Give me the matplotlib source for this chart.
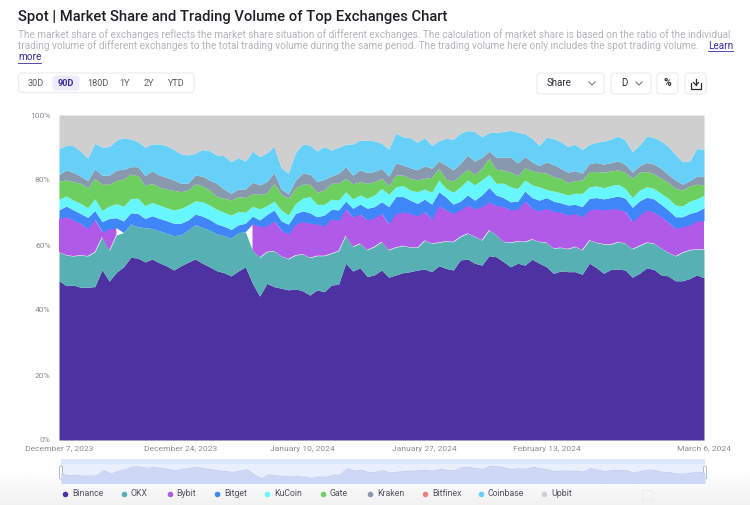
import numpy as np
import pandas as pd
import matplotlib.pyplot as plt
from matplotlib.patches import FancyBboxPatch, Rectangle

plt.rcParams["font.family"] = ["Roboto", "DejaVu Sans"]

# ---- Data: top edge of each stacked band, in % of total volume, one per day
dates = pd.date_range("2023-12-07", periods=91)

binance_top = [
    49.0, 47.5, 47.7, 47.0, 47.0, 47.2, 52.4, 48.9, 51.6, 53.3, 56.2, 56.0, 54.8, 55.7, 54.5, 53.6,
    52.3, 53.6, 54.7, 55.7, 54.4, 53.3, 52.1, 51.5, 50.5, 52.0, 53.3, 48.2, 44.3, 48.2, 47.2,
    46.7, 46.2, 46.5, 45.9, 44.6, 46.2, 45.6, 47.7, 47.9, 54.4, 52.0, 53.0, 50.3, 50.8, 52.3,
    50.1, 50.8, 51.5, 51.8, 52.3, 52.6, 51.8, 53.6, 52.8, 52.3, 55.4, 55.7, 54.4, 53.8, 56.7,
    56.4, 54.9, 53.3, 54.4, 53.8, 55.6, 54.4, 53.3, 51.3, 52.0, 51.8, 51.8, 51.0, 54.4, 53.0,
    51.3, 52.5, 52.6, 52.3, 50.1, 51.3, 53.0, 52.5, 50.8, 50.5, 49.0, 49.0, 49.7, 50.8, 49.9,
]
okx_top = [
    57.8, 56.9, 56.6, 56.9, 56.6, 57.9, 62.5, 58.3, 63.1, 63.8, 66.5, 65.6, 65.3, 65.1, 64.4, 63.6,
    62.9, 63.1, 64.6, 66.2, 65.4, 64.6, 63.4, 62.9, 62.1, 63.8, 64.1, 58.3, 56.2, 57.9, 58.2,
    56.6, 55.7, 56.9, 57.2, 56.1, 56.7, 56.7, 57.4, 58.2, 62.9, 59.5, 60.5, 58.5, 59.5, 61.0,
    58.5, 59.3, 59.8, 59.3, 59.2, 61.4, 60.5, 60.8, 61.2, 61.0, 62.6, 63.6, 62.6, 61.5, 64.6,
    63.1, 61.0, 60.8, 61.2, 61.0, 61.8, 61.0, 60.8, 59.0, 59.2, 58.8, 59.5, 58.5, 61.5, 60.7,
    60.3, 60.2, 61.0, 60.5, 58.8, 59.8, 60.8, 60.5, 59.0, 57.7, 56.6, 57.7, 58.5, 58.7, 58.7,
]
nan = float("nan")
bybit_top = [
    68.0, 68.8, 67.6, 66.7, 65.0, 67.9, 64.1, 64.9, 65.3, nan, nan, nan, nan, nan, nan, nan,
    nan, nan, nan, nan, nan, nan, nan, nan, nan, nan, nan, 66.5, 65.8, 65.9, 67.4,
    64.6, 63.3, 66.4, 67.2, 66.7, 66.4, 65.8, 68.0, 67.5, 71.0, 68.7, 69.5, 67.7, 68.4, 69.7,
    66.5, 69.7, 70.1, 69.7, 69.0, 70.3, 67.9, 72.1, 70.8, 69.7, 70.8, 72.3, 71.1, 71.8, 73.3,
    72.1, 71.8, 70.8, 71.0, 73.5, 71.3, 70.5, 71.3, 70.3, 70.1, 69.2, 69.7, 68.7, 70.8, 71.1,
    70.8, 71.1, 71.1, 70.3, 67.2, 69.2, 70.8, 70.1, 68.7, 67.0, 65.1, 65.6, 66.2, 67.4, 67.5,
]
bitget_top = [
    70.8, 72.0, 70.8, 69.7, 68.5, 70.6, 67.2, 68.2, 68.4, 67.4, 69.9, 69.7, 68.2, 69.0, 68.2, 67.5,
    66.7, 66.7, 67.7, 69.5, 68.9, 67.9, 66.5, 65.8, 64.8, 66.2, 66.7, 68.9, 67.7, 69.4, 70.8,
    67.4, 66.4, 69.7, 70.5, 69.9, 68.7, 69.2, 71.0, 70.8, 73.5, 71.3, 72.6, 71.3, 71.8, 73.3,
    71.8, 74.9, 74.9, 73.8, 72.8, 74.1, 72.6, 76.4, 74.7, 72.6, 73.5, 75.4, 73.8, 75.4, 77.7,
    75.4, 74.6, 73.3, 73.5, 76.6, 74.6, 73.8, 74.6, 73.5, 73.0, 72.3, 72.5, 71.8, 74.4, 74.6,
    74.2, 74.6, 75.1, 74.4, 71.6, 73.6, 74.7, 74.2, 72.5, 70.8, 68.7, 68.7, 69.7, 70.3, 71.5,
]
kucoin_top = [
    74.1, 75.1, 73.8, 72.8, 71.5, 74.2, 70.6, 72.0, 72.7, 71.9, 74.3, 74.4, 72.1, 73.1, 72.3, 71.5,
    70.8, 71.3, 72.3, 73.6, 73.3, 72.3, 71.0, 70.1, 69.2, 70.3, 70.1, 71.9, 71.1, 72.1, 73.5,
    70.8, 69.2, 72.8, 74.4, 74.9, 72.5, 72.5, 74.1, 73.8, 76.4, 74.2, 75.4, 74.4, 75.4, 77.4,
    75.6, 77.9, 78.3, 76.9, 76.4, 77.2, 76.2, 80.0, 77.4, 76.2, 77.9, 80.0, 78.5, 80.0, 81.7,
    79.0, 79.0, 77.9, 77.4, 80.0, 78.5, 77.9, 77.1, 76.6, 76.1, 75.4, 75.9, 75.9, 77.9, 78.2,
    77.6, 78.3, 78.7, 77.4, 74.6, 76.9, 77.9, 77.4, 75.9, 74.4, 72.3, 72.0, 73.5, 74.2, 75.3,
]
gate_top = [
    79.7, 80.0, 79.5, 79.0, 77.6, 80.5, 78.7, 78.7, 79.8, 80.3, 81.8, 81.3, 78.3, 79.0, 77.8, 77.2,
    76.8, 76.4, 76.9, 78.8, 78.2, 76.9, 74.9, 74.4, 73.8, 74.9, 74.6, 75.8, 75.6, 76.0, 79.0,
    75.6, 74.4, 77.6, 78.7, 78.7, 76.2, 76.9, 79.0, 79.0, 80.5, 78.8, 79.5, 79.0, 79.5, 80.5,
    78.2, 81.5, 81.5, 80.5, 80.0, 80.5, 80.8, 83.6, 80.2, 79.7, 81.5, 83.3, 81.7, 83.6, 86.7,
    83.3, 83.0, 82.4, 81.3, 83.8, 82.8, 82.4, 82.1, 81.0, 80.5, 79.2, 79.8, 80.0, 82.6, 82.6,
    82.4, 82.8, 83.1, 82.3, 80.5, 82.4, 82.6, 81.9, 80.5, 79.2, 77.4, 76.9, 78.2, 78.7, 78.5,
]
kraken_top = [
    81.7, 83.1, 82.4, 81.2, 79.8, 83.4, 81.5, 81.5, 83.1, 83.3, 84.1, 84.1, 81.4, 82.8, 81.5, 80.8,
    80.0, 79.0, 79.0, 81.5, 81.2, 80.0, 79.0, 77.2, 75.9, 77.2, 77.2, 79.3, 78.5, 79.5, 82.3,
    77.2, 75.7, 80.0, 82.1, 81.8, 79.5, 80.2, 81.2, 82.1, 84.1, 81.5, 83.1, 82.3, 82.6, 83.6,
    81.2, 85.3, 84.6, 83.8, 83.1, 84.4, 83.6, 85.9, 84.6, 83.1, 85.1, 87.7, 85.8, 86.9, 88.9,
    87.0, 87.0, 87.0, 85.3, 87.2, 85.6, 84.4, 85.6, 84.8, 83.6, 82.4, 82.9, 82.1, 85.1, 85.4,
    84.9, 85.3, 85.9, 84.8, 82.4, 84.4, 85.4, 84.9, 83.6, 81.7, 80.0, 78.7, 79.8, 81.2, 81.0,
]
coinbase_top = [
    89.7, 90.6, 90.6, 88.9, 86.7, 91.3, 90.1, 90.3, 92.3, 93.0, 92.6, 91.8, 90.1, 91.1, 91.1, 90.6,
    89.4, 88.1, 87.7, 88.2, 89.4, 89.0, 87.7, 87.5, 85.6, 86.9, 85.8, 88.9, 87.2, 88.4, 90.3,
    83.8, 82.1, 88.5, 91.0, 90.8, 88.9, 90.3, 89.2, 90.1, 91.0, 91.1, 92.3, 92.2, 92.1, 91.3,
    89.5, 94.4, 93.3, 93.0, 91.6, 93.1, 90.6, 92.1, 92.8, 92.6, 94.4, 95.2, 94.9, 93.3, 94.6,
    94.7, 94.9, 95.3, 94.7, 94.3, 92.8, 90.6, 93.2, 92.8, 91.8, 90.3, 91.0, 89.4, 91.0, 91.6,
    92.0, 92.6, 93.5, 92.3, 88.7, 90.8, 93.5, 93.1, 92.0, 90.3, 87.9, 85.6, 85.9, 89.7, 89.5,
]

exchanges = ["Binance", "OKX", "Bybit", "Bitget", "KuCoin", "Gate", "Kraken", "Bitfinex", "Coinbase", "Upbit"]
colors = ["#4d33a1", "#56b0b4", "#b05ae8", "#3f86f8", "#66f6fe", "#6ccf5f", "#8899ae", "#ee7f7f", "#67d0f9", "#cfcfcf"]

y_ticks = [0, 20, 40, 60, 80, 100]
x_tick_dates = ["2023-12-07", "2023-12-24", "2024-01-10", "2024-01-27", "2024-02-13", "2024-03-06"]
x_tick_labels = ["December 7, 2023", "December 24, 2023", "January 10, 2024", "January 27, 2024", "February 13, 2024", "March 6, 2024"]

GREY_TEXT = "#8b8b94"
DARK_TEXT = "#2b2b33"
PURPLE = "#3d2a9c"

fig = plt.figure(figsize=(7.5, 5.05), dpi=100)

# ---- Page layer, in pixel coordinates of the screenshot
page = fig.add_axes([0, 0, 1, 1], zorder=0)
page.set_xlim(0, 750)
page.set_ylim(505, 0)
page.axis("off")

# bottom fade
fade = np.linspace(1, 0.945, 50)[:, None]
page.imshow(fade, extent=(0, 750, 505, 470), cmap="gray", vmin=0, vmax=1, aspect="auto", zorder=0)
page.set_xlim(0, 750)
page.set_ylim(505, 0)

page.text(18, 17, "Spot | Market Share and Trading Volume of Top Exchanges Chart",
          fontsize=10.6, fontweight="medium", color="#1f1f27", va="center")
sub_lines = [
    "The market share of exchanges reflects the market share situation of different exchanges. The calculation of market share is based on the ratio of the individual",
    "trading volume of different exchanges to the total trading volume during the same period. The trading volume here only includes the spot trading volume.",
]
page.text(18, 34.5, sub_lines[0], fontsize=7.2, color="#b4b4bb", va="center")
page.text(18, 46, sub_lines[1], fontsize=7.2, color="#b4b4bb", va="center")
page.text(708, 46, "Learn", fontsize=7.2, color=PURPLE, va="center")
page.text(18, 57.5, "more", fontsize=7.2, color=PURPLE, va="center")
page.plot([708, 733], [51, 51], color=PURPLE, lw=0.6)
page.plot([18, 41], [62.5, 62.5], color=PURPLE, lw=0.6)


def box(x0, y0, x1, y1, fc="white", ec="#ececf0"):
    page.add_patch(FancyBboxPatch((x0, y0), x1 - x0, y1 - y0, boxstyle="round,pad=0,rounding_size=3",
                                  fc=fc, ec=ec, lw=0.8, mutation_aspect=1))


def chevron(x, y):
    page.plot([x - 3, x, x + 3], [y - 1.5, y + 1.5, y - 1.5], color="#77777f", lw=0.8)


# ---- Range buttons
box(18.5, 73, 194, 92.5)
box(53, 76, 79, 90, fc="#eeecfa", ec="#eeecfa")
range_names = ["30D", "90D", "180D", "1Y", "2Y", "YTD"]
range_x = [35.5, 66, 97.5, 125, 149, 176]
for name, x in zip(range_names, range_x):
    page.text(x, 83, name, fontsize=6.6, ha="center", va="center",
              color=PURPLE if name == "90D" else "#5a5a63",
              fontweight="bold" if name == "90D" else "normal")

# ---- Right hand controls
box(537, 73, 604, 94)
page.text(559, 83.5, "Share", fontsize=7, ha="center", va="center", color=DARK_TEXT)
chevron(592, 83.5)
box(611, 73, 651, 94)
page.text(624, 83.5, "D", fontsize=7, ha="center", va="center", color=DARK_TEXT)
chevron(639, 83.5)
box(657, 73, 678, 94)
page.text(667.5, 83.5, "%", fontsize=7.5, fontweight="bold", ha="center", va="center", color=DARK_TEXT)
box(685, 73, 706, 94)
page.plot([691, 691, 701, 701], [83, 88.5, 88.5, 83], color=DARK_TEXT, lw=0.9)
page.plot([696, 696], [78.5, 85], color=DARK_TEXT, lw=0.9)
page.plot([693.5, 696, 698.5], [82.5, 85, 82.5], color=DARK_TEXT, lw=0.9)

# ---- Main stacked area
ax = fig.add_axes([59 / 750, 65 / 505, 645 / 750, 325 / 505], zorder=1)
ax.patch.set_alpha(0)

bybit = np.array(bybit_top)
okx = np.array(okx_top)
under_bitget = np.where(np.isnan(bybit), okx, bybit)  # no Bybit data: the stack closes up
zeros = np.zeros(len(dates))
hundred = np.full(len(dates), 100.0)

layers = [
    (zeros, binance_top, colors[0]),
    (binance_top, okx_top, colors[1]),
    (okx_top, bybit_top, colors[2]),
    (under_bitget, bitget_top, colors[3]),
    (bitget_top, kucoin_top, colors[4]),
    (kucoin_top, gate_top, colors[5]),
    (gate_top, kraken_top, colors[6]),
    (kraken_top, coinbase_top, colors[8]),
    (coinbase_top, hundred, colors[9]),
]
for lower, upper, color in layers:
    ax.fill_between(dates, lower, upper, color=color, lw=0)

ax.set_xlim(dates[0], dates[-1])
ax.set_ylim(0, 100)
ax.set_yticks(y_ticks)
ax.set_yticklabels([f"{v}%" for v in y_ticks])
ax.set_xticks(pd.to_datetime(x_tick_dates))
ax.set_xticklabels(x_tick_labels)
ax.tick_params(length=0, labelsize=6.1, labelcolor=GREY_TEXT)
ax.tick_params(axis="x", pad=4)
ax.tick_params(axis="y", pad=6)
for side in ax.spines:
    ax.spines[side].set_visible(False)

# ---- Range slider under the chart
page.add_patch(Rectangle((61, 459), 644, 24, fc="#dfe7fa", ec="none", zorder=1))
page.add_patch(Rectangle((61, 464), 644, 19, fc="#e9effd", ec="none", zorder=1))
nav = fig.add_axes([61 / 750, 22 / 505, 644 / 750, 24 / 505], zorder=2)
nav.patch.set_alpha(0)
nav.fill_between(dates, 0, binance_top, color="#ccd8f6", lw=0)
nav.plot(dates, binance_top, color="#bccbf2", lw=0.6)
nav.set_xlim(dates[0], dates[-1])
nav.set_ylim(40, 64)
nav.axis("off")
for x in (61, 705):
    page.add_patch(FancyBboxPatch((x - 1.5, 466), 3, 13, boxstyle="round,pad=0,rounding_size=1.2",
                                  fc="white", ec="#b9b9c2", lw=0.7, zorder=3))

# ---- Legend drawn by hand to sit at the original spots
legend_x = [65, 123.5, 169.5, 217, 267, 323, 370, 425, 481, 544]
for name, color, x in zip(exchanges, colors, legend_x):
    page.plot([x], [494], "o", ms=4, color=color, mew=0, zorder=3)
    page.text(x + 7, 494, name, fontsize=6.3, color="#55555e", va="center", zorder=3)
page.add_patch(Rectangle((642, 490), 10, 10, fc="none", ec="#ececec", lw=0.7, zorder=3))

fig.savefig("out.png", dpi=100)
